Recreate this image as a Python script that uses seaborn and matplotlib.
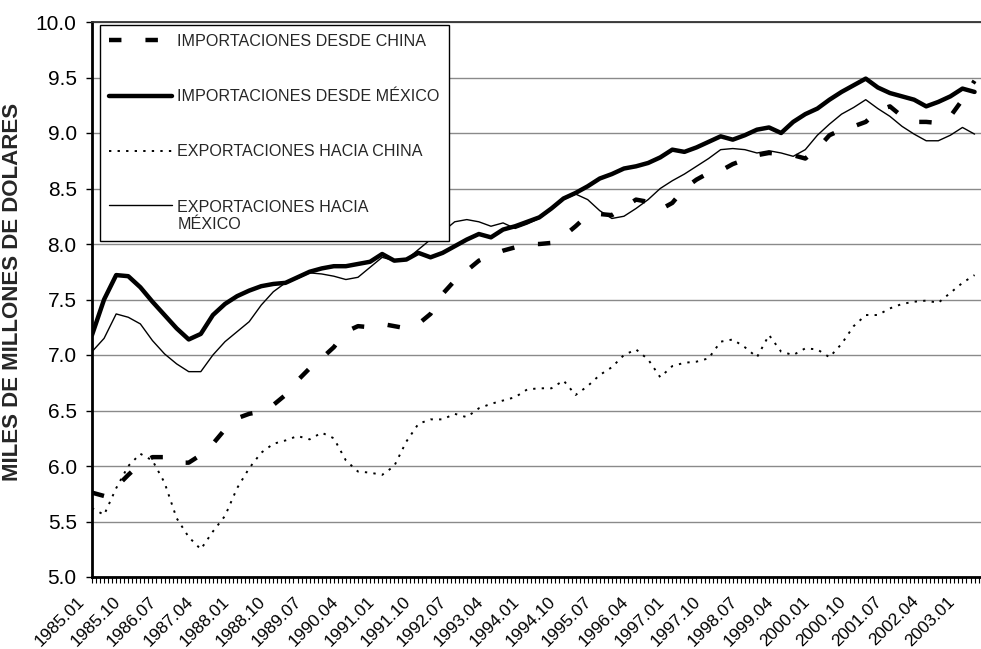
import matplotlib
matplotlib.use('Agg')
import matplotlib.pyplot as plt
import matplotlib.transforms as mtrans
import seaborn as sns
import pandas as pd
from matplotlib.ticker import MultipleLocator, FixedLocator

# monthly category axis 1985.01 .. 2003.05, values read every quarter
periods = pd.period_range('1985-01', '2003-05', freq='M')
quarter_idx = list(range(0, len(periods), 3))

tick_labels = ['1985.01', '1985.10', '1986.07', '1987.04', '1988.01', '1988.10',
               '1989.07', '1990.04', '1991.01', '1991.10', '1992.07', '1993.04',
               '1994.01', '1994.10', '1995.07', '1996.04', '1997.01', '1997.10',
               '1998.07', '1999.04', '2000.01', '2000.10', '2001.07', '2002.04',
               '2003.01']

imp_china = [5.76, 5.73, 5.81, 5.92, 6.02, 6.08, 6.08, 6.03, 6.03, 6.10,
             6.20, 6.33, 6.43, 6.47, 6.49, 6.55, 6.64, 6.77, 6.88, 6.97,
             7.07, 7.21, 7.26, 7.25, 7.28, 7.26, 7.24, 7.28, 7.37, 7.55,
             7.67, 7.76, 7.85, 7.90, 7.94, 7.97, 8.00, 8.00, 8.01, 8.07,
             8.16, 8.26, 8.27, 8.26, 8.33, 8.40, 8.38, 8.31, 8.37, 8.50,
             8.58, 8.64, 8.66, 8.72, 8.76, 8.80, 8.82, 8.81, 8.80, 8.77,
             8.86, 8.98, 9.03, 9.06, 9.10, 9.20, 9.24, 9.15, 9.10, 9.10,
             9.09, 9.15, 9.30, 9.47]

imp_mexico = [7.18, 7.50, 7.72, 7.71, 7.61, 7.48, 7.36, 7.24, 7.14, 7.19,
              7.36, 7.46, 7.53, 7.58, 7.62, 7.64, 7.65, 7.70, 7.75, 7.78,
              7.80, 7.80, 7.82, 7.84, 7.91, 7.85, 7.86, 7.92, 7.88, 7.92,
              7.98, 8.04, 8.09, 8.06, 8.13, 8.16, 8.20, 8.24, 8.32, 8.41,
              8.46, 8.52, 8.59, 8.63, 8.68, 8.70, 8.73, 8.78, 8.85, 8.83,
              8.87, 8.92, 8.97, 8.94, 8.98, 9.03, 9.05, 9.00, 9.10, 9.17,
              9.22, 9.30, 9.37, 9.43, 9.49, 9.41, 9.36, 9.33, 9.30, 9.24,
              9.28, 9.33, 9.40, 9.37]

exp_china = [5.62, 5.56, 5.80, 6.00, 6.11, 6.05, 5.85, 5.53, 5.36, 5.25,
             5.41, 5.55, 5.80, 5.98, 6.12, 6.20, 6.23, 6.27, 6.24, 6.30,
             6.25, 6.05, 5.95, 5.94, 5.92, 6.00, 6.22, 6.38, 6.42, 6.42,
             6.47, 6.44, 6.52, 6.56, 6.59, 6.62, 6.69, 6.70, 6.70, 6.77,
             6.64, 6.72, 6.82, 6.89, 7.00, 7.05, 6.96, 6.80, 6.90, 6.93,
             6.94, 6.97, 7.12, 7.14, 7.07, 6.98, 7.18, 7.03, 7.00, 7.06,
             7.05, 6.98, 7.10, 7.26, 7.36, 7.36, 7.42, 7.46, 7.48, 7.49,
             7.47, 7.56, 7.65, 7.72]

exp_mexico = [7.03, 7.15, 7.37, 7.34, 7.28, 7.13, 7.01, 6.92, 6.85, 6.85,
              7.00, 7.12, 7.21, 7.30, 7.45, 7.57, 7.65, 7.69, 7.74, 7.73,
              7.71, 7.68, 7.70, 7.79, 7.88, 7.85, 7.86, 7.95, 8.04, 8.11,
              8.20, 8.22, 8.20, 8.16, 8.19, 8.14, 8.18, 8.23, 8.31, 8.40,
              8.45, 8.40, 8.30, 8.23, 8.25, 8.32, 8.40, 8.50, 8.57, 8.63,
              8.70, 8.77, 8.85, 8.86, 8.85, 8.82, 8.84, 8.82, 8.79, 8.85,
              8.98, 9.08, 9.17, 9.23, 9.30, 9.22, 9.15, 9.06, 8.99, 8.93,
              8.93, 8.98, 9.05, 8.99]

series = [
    ('IMPORTACIONES DESDE CHINA', imp_china,
     dict(lw=3.2, linestyle=(0, (2.8, 5.4)), dash_capstyle='butt')),
    ('IMPORTACIONES DESDE MÉXICO', imp_mexico, dict(lw=3.2, linestyle='-')),
    ('EXPORTACIONES HACIA CHINA', exp_china,
     dict(lw=1.4, linestyle=(0, (1.2, 3.2)))),
    ('EXPORTACIONES HACIA\nMÉXICO', exp_mexico, dict(lw=1.0, linestyle='-')),
]

sns.set_style('white')
plt.rcParams['font.family'] = ['Liberation Sans', 'DejaVu Sans']

fig = plt.figure(figsize=(9.81, 6.49), dpi=100)
ax = fig.add_axes([92 / 981, 1 - 577 / 649, 1 - 92 / 981, (577 - 22) / 649])

for label, vals, style in series:
    sns.lineplot(x=quarter_idx, y=vals, ax=ax, color='black', label=label, **style)

ax.set_xlim(0, len(periods) - 1 + 0.6)
ax.set_ylim(5.0, 10.0)
ax.yaxis.set_major_locator(MultipleLocator(0.5))
ax.set_yticklabels([f'{v:.1f}' for v in ax.get_yticks()])
ax.grid(axis='y', color='#8a8a8a', lw=1.0)
ax.set_axisbelow(True)

ax.xaxis.set_major_locator(FixedLocator(range(0, len(periods), 9)))
ax.xaxis.set_minor_locator(MultipleLocator(1))
ax.set_xticklabels(tick_labels, rotation=45, ha='right', fontsize=12.5)
ax.tick_params(axis='x', which='both', direction='out', length=4, width=0.8,
               bottom=True, colors='black', pad=8)
ax.tick_params(axis='y', which='major', direction='out', length=4, width=1,
               left=True, labelsize=15, colors='black', pad=7)
shift = mtrans.ScaledTranslation(-5 / 100, 0, fig.dpi_scale_trans)
for lbl in ax.get_xticklabels():
    lbl.set_transform(lbl.get_transform() + shift)

for side in ['left', 'bottom']:
    ax.spines[side].set_color('black')
    ax.spines[side].set_linewidth(2)
ax.spines['top'].set_color('#333333')
ax.spines['top'].set_linewidth(1.3)
ax.spines['right'].set_visible(False)
ax.set_xlabel('')
ax.set_ylabel('')

fig.text(13 / 981, 1 - 292 / 649, 'MILES DE MILLONES DE DÓLARES', rotation=90,
         ha='center', va='center', fontsize=16, fontweight='bold')

leg = ax.legend(loc='upper left', bbox_to_anchor=(8 / 889, 1 - 3 / 555),
                borderaxespad=0, frameon=True, fancybox=False,
                handlelength=3.9, handletextpad=0.35, labelspacing=2.5,
                borderpad=0.55, prop={'size': 11.6})
leg.get_frame().set_edgecolor('black')
leg.get_frame().set_linewidth(1.0)
leg.get_frame().set_alpha(1)
# put the last handle level with the first line of its two-line label
last = leg.get_lines()[-1]
last.set_ydata([y + 8 for y in last.get_ydata()])

plt.savefig('out.png', dpi=100)
plt.close()
